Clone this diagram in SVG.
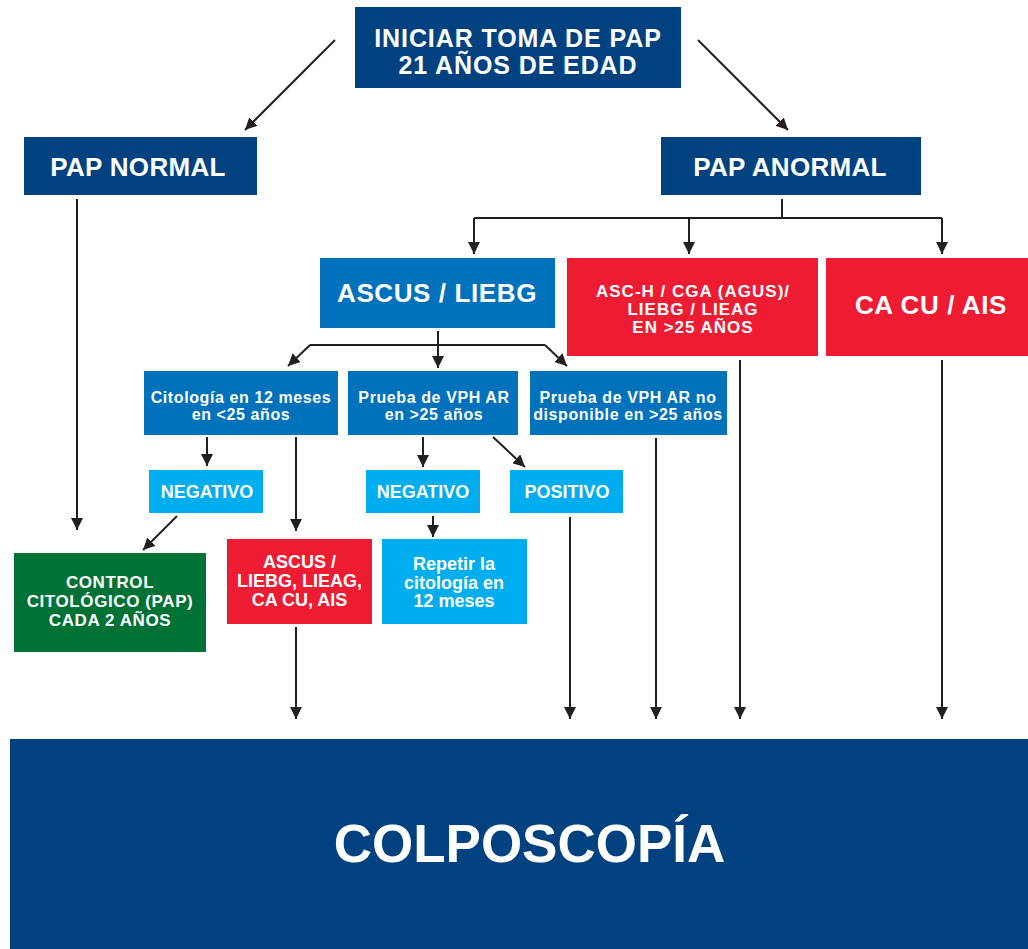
<svg xmlns="http://www.w3.org/2000/svg" width="1028" height="949" viewBox="0 0 1028 949">
<style>
text{font-family:"Liberation Sans",Arial,sans-serif;font-weight:bold;fill:#fff;text-anchor:middle}
.navy{fill:#00427f}.mid{fill:#0071bb}.light{fill:#00aeef}.red{fill:#ed1c33}.green{fill:#007236}
.c{stroke:#231f20;stroke-width:2;fill:none}
.t26{font-size:26px;letter-spacing:0.3px}.t17{font-size:17px;letter-spacing:0.6px}.t16{font-size:16px;letter-spacing:0.6px}.t18{font-size:18px}
.neg{font-size:18px}
</style>
<defs>
<marker id="ah" viewBox="0 0 10 10" refX="10" refY="5" markerWidth="6" markerHeight="6" markerUnits="strokeWidth" orient="auto">
<path d="M0,0L10,5L0,10z" fill="#231f20"/>
</marker>
</defs>
<rect width="1028" height="949" fill="#fff"/>
<g id="connectors">
<line class="c" x1="335" y1="40" x2="245" y2="130" marker-end="url(#ah)"/>
<line class="c" x1="698" y1="40" x2="788" y2="130" marker-end="url(#ah)"/>
<polyline class="c" points="782,199 782,218"/>
<polyline class="c" points="474,218 942,218"/>
<line class="c" x1="474" y1="218" x2="474" y2="254" marker-end="url(#ah)"/>
<line class="c" x1="689" y1="218" x2="689" y2="254" marker-end="url(#ah)"/>
<line class="c" x1="942" y1="218" x2="942" y2="254" marker-end="url(#ah)"/>
<line class="c" x1="77" y1="199" x2="77" y2="530" marker-end="url(#ah)"/>
<polyline class="c" points="438,331 438,345"/>
<polyline class="c" points="310,345 545,345"/>
<line class="c" x1="310" y1="345" x2="288" y2="366" marker-end="url(#ah)"/>
<line class="c" x1="438" y1="345" x2="438" y2="368" marker-end="url(#ah)"/>
<line class="c" x1="545" y1="345" x2="567" y2="366" marker-end="url(#ah)"/>
<line class="c" x1="207" y1="437" x2="207" y2="466" marker-end="url(#ah)"/>
<line class="c" x1="296" y1="437" x2="296" y2="531" marker-end="url(#ah)"/>
<line class="c" x1="423" y1="437" x2="423" y2="467" marker-end="url(#ah)"/>
<line class="c" x1="493" y1="437" x2="525" y2="467" marker-end="url(#ah)"/>
<line class="c" x1="177" y1="516" x2="143" y2="550" marker-end="url(#ah)"/>
<line class="c" x1="433" y1="516" x2="433" y2="537" marker-end="url(#ah)"/>
<line class="c" x1="296" y1="627" x2="296" y2="719" marker-end="url(#ah)"/>
<line class="c" x1="570" y1="517" x2="570" y2="719" marker-end="url(#ah)"/>
<line class="c" x1="656" y1="438" x2="656" y2="719" marker-end="url(#ah)"/>
<line class="c" x1="740" y1="360" x2="740" y2="719" marker-end="url(#ah)"/>
<line class="c" x1="942" y1="360" x2="942" y2="719" marker-end="url(#ah)"/>
</g>
<g id="inicio"><rect class="navy" x="355" y="7" width="326" height="81"/>
<text x="518" y="47" style="font-size:25px;letter-spacing:0.9px">INICIAR TOMA DE PAP</text>
<text x="518" y="74" style="font-size:25px;letter-spacing:0.9px">21 AÑOS DE EDAD</text></g>
<g id="pap-normal"><rect class="navy" x="24" y="137" width="233" height="58"/>
<text class="t26" x="138" y="176">PAP NORMAL</text></g>
<g id="pap-anormal"><rect class="navy" x="661" y="137" width="260" height="58"/>
<text class="t26" x="790" y="176">PAP ANORMAL</text></g>
<g id="ascus-liebg"><rect class="mid" x="320" y="258" width="235" height="70"/>
<text class="t26" x="437" y="302" style="letter-spacing:0.6px">ASCUS / LIEBG</text></g>
<g id="asch"><rect class="red" x="567" y="258" width="251" height="98"/>
<text class="t17" x="693" y="297" style="letter-spacing:1px">ASC-H / CGA (AGUS)/</text>
<text class="t17" x="693" y="315" style="letter-spacing:1px">LIEBG / LIEAG</text>
<text class="t17" x="693" y="333" style="letter-spacing:1px">EN &gt;25 AÑOS</text></g>
<g id="cacu-ais"><rect class="red" x="826" y="258" width="202" height="98"/>
<text class="t26" x="931" y="314" style="letter-spacing:0.6px">CA CU / AIS</text></g>
<g id="citologia"><rect class="mid" x="144" y="371" width="194" height="64"/>
<text class="t16" x="241" y="403">Citología en 12 meses</text>
<text class="t16" x="241" y="420">en &lt;25 años</text></g>
<g id="vph"><rect class="mid" x="348" y="371" width="170" height="64"/>
<text class="t16" x="434" y="403">Prueba de VPH AR</text>
<text class="t16" x="434" y="420">en &gt;25 años</text></g>
<g id="vph-no"><rect class="mid" x="530" y="371" width="197" height="64"/>
<text class="t16" x="628" y="403">Prueba de VPH AR no</text>
<text class="t16" x="628" y="420">disponible en &gt;25 años</text></g>
<g id="negativo1"><rect class="light" x="149" y="470" width="114" height="43"/>
<text class="neg" x="207" y="498">NEGATIVO</text></g>
<g id="negativo2"><rect class="light" x="366" y="470" width="114" height="43"/>
<text class="neg" x="423" y="498">NEGATIVO</text></g>
<g id="positivo"><rect class="light" x="510" y="470" width="113" height="43"/>
<text class="neg" x="567" y="498">POSITIVO</text></g>
<g id="control"><rect class="green" x="14" y="553" width="192" height="99"/>
<text class="t17" x="110" y="588">CONTROL</text>
<text class="t17" x="110" y="607">CITOLÓGICO (PAP)</text>
<text class="t17" x="110" y="626">CADA 2 AÑOS</text></g>
<g id="ascus-red"><rect class="red" x="227" y="539" width="145" height="85"/>
<text class="t18" x="299.5" y="568">ASCUS /</text>
<text class="t18" x="299.5" y="587">LIEBG, LIEAG,</text>
<text class="t18" x="299.5" y="606">CA CU, AIS</text></g>
<g id="repetir"><rect class="light" x="382" y="539" width="145" height="85"/>
<text class="t18" x="454" y="570">Repetir la</text>
<text class="t18" x="454" y="589">citología en</text>
<text class="t18" x="454" y="607">12 meses</text></g>
<g id="colposcopia"><rect class="navy" x="10" y="739" width="1018" height="210"/>
<text x="529.5" y="862" style="font-size:53px">COLPOSCOPÍA</text></g>
</svg>
